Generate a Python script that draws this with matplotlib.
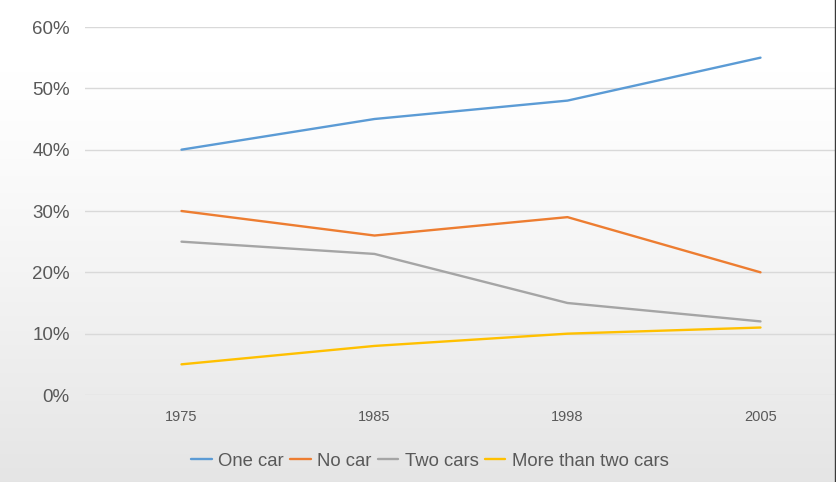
import matplotlib
matplotlib.use("Agg")
import matplotlib.pyplot as plt
import numpy as np
from matplotlib.ticker import FuncFormatter

years = ["1975", "1985", "1998", "2005"]
one_car = [40, 45, 48, 55]
no_car = [30, 26, 29, 20]
two_cars = [25, 23, 15, 12]
more_than_two = [5, 8, 10, 11]
series_names = ["One car", "No car", "Two cars", "More than two cars"]
series_values = [one_car, no_car, two_cars, more_than_two]
colors = ["#5B9BD5", "#ED7D31", "#A5A5A5", "#FFC000"]
y_ticks = [0, 10, 20, 30, 40, 50, 60]

plt.rcParams['font.family'] = ['Liberation Sans', 'DejaVu Sans']

W, H = 836, 482
fig = plt.figure(figsize=(W / 100, H / 100), dpi=100)

# background gradient
bg = fig.add_axes([0, 0, 1, 1], zorder=-10)
grad = np.linspace(0, 1, 256).reshape(-1, 1)
top = np.array([1.0, 1.0, 1.0])
bot = np.array([0.898, 0.898, 0.898])
t = np.clip((grad - 0.15) / 0.85, 0, 1) ** 1.2
img = top * (1 - t) + bot * t
bg.imshow(img.reshape(256, 1, 3), aspect='auto', extent=[0, 1, 0, 1])
bg.axis('off')

left = 85 / W
width = 772 / W
bottom = 1 - 395 / H
height = (395 - 27) / H
ax = fig.add_axes([left, bottom, width, height])
ax.patch.set_alpha(0)

x = np.arange(len(years))
for name, vals, c in zip(series_names, series_values, colors):
    ax.plot(x, vals, color=c, lw=1.7, label=name, solid_capstyle='round')

ax.set_xlim(-0.5, len(years) - 0.5)
ax.set_ylim(0, 60)
ax.set_yticks(y_ticks)
ax.yaxis.set_major_formatter(FuncFormatter(lambda v, p: f"{int(v)}%"))
ax.set_xticks(x)
ax.set_xticklabels(years)
ax.grid(axis='y', color='#d9d9d9', lw=1)
ax.set_axisbelow(True)
for s in ax.spines.values():
    s.set_visible(False)
ax.tick_params(axis='y', length=0, pad=11, labelsize=13.5, labelcolor='#595959')
ax.tick_params(axis='x', length=0, pad=11, labelsize=10.5, labelcolor='#595959')

leg = fig.legend(loc='center', bbox_to_anchor=(430 / W, 1 - 461 / H), ncol=4,
                 frameon=False, fontsize=13.3, handlelength=1.1, handletextpad=0.35,
                 columnspacing=0.35, labelcolor='#595959')

fig.add_artist(plt.Line2D([1 - 1 / W, 1 - 1 / W], [0, 1], transform=fig.transFigure,
                          color='#3a3a3a', lw=1.0))

fig.savefig("out.png", dpi=100)
